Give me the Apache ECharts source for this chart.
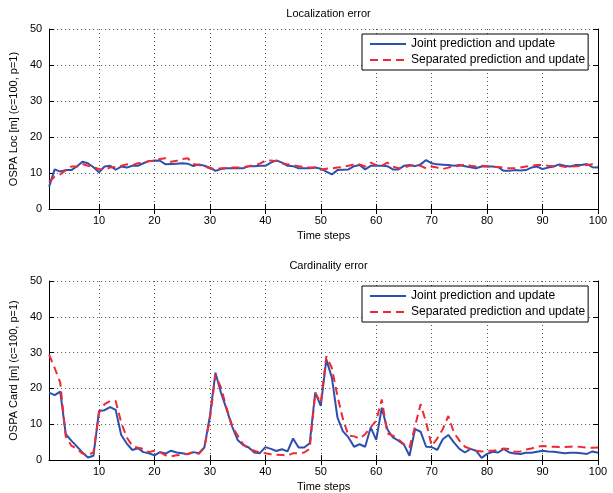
<!DOCTYPE html>
<html>
<head>
<meta charset="utf-8">
<script src="https://cdn.jsdelivr.net/npm/echarts@6/dist/echarts.min.js"></script>
<style>
  html, body { margin: 0; padding: 0; background: #fff; }
  #chart { width: 613px; height: 493px; }
</style>
</head>
<body>
<div id="chart"></div>
<script>
// OSPA error per time step (steps 1..100)
const locJoint = [
  6.2, 11.0, 10.4, 10.8, 10.8, 11.8, 13.1, 12.7, 11.6, 10.2,
  11.8, 12.0, 10.9, 11.8, 11.5, 12.0, 12.0, 12.7, 13.3, 13.5,
  13.4, 12.4, 12.5, 12.6, 12.7, 12.6, 11.9, 12.4, 12.0, 11.5,
  10.6, 11.1, 11.3, 11.3, 11.3, 11.3, 11.9, 11.9, 12.0, 12.0,
  12.9, 13.5, 12.9, 12.0, 11.9, 11.3, 11.3, 11.3, 11.5, 11.2,
  10.4, 9.6, 10.8, 10.9, 11.0, 11.9, 12.2, 11.0, 12.0, 12.0,
  12.0, 11.9, 11.0, 11.0, 12.0, 12.2, 11.9, 12.4, 13.6, 12.7,
  12.4, 12.3, 12.2, 12.0, 12.2, 11.9, 11.6, 11.3, 11.8, 11.8,
  11.8, 11.6, 10.6, 10.6, 10.8, 10.7, 10.8, 11.5, 11.8, 11.1,
  11.5, 11.8, 12.4, 12.0, 11.8, 12.2, 12.2, 12.5, 11.6, 11.5
];
const locSeparated = [
  7.5, 9.0, 9.6, 10.8, 11.8, 11.8, 12.5, 12.0, 11.6, 11.1,
  11.0, 11.5, 11.7, 12.0, 12.4, 12.2, 12.7, 12.9, 13.3, 13.3,
  13.9, 14.1, 13.1, 13.4, 13.9, 14.1, 12.5, 12.2, 11.8, 11.3,
  11.1, 11.3, 11.3, 11.5, 11.5, 11.6, 11.9, 12.2, 12.6, 13.4,
  13.5, 13.3, 12.7, 12.4, 12.2, 11.9, 11.7, 11.5, 11.5, 10.9,
  11.2, 11.3, 11.5, 11.7, 12.0, 12.4, 12.4, 11.8, 12.9, 12.2,
  12.0, 12.9, 11.8, 11.3, 11.5, 12.0, 12.2, 12.0, 11.3, 11.8,
  11.5, 11.1, 11.5, 11.8, 12.0, 12.4, 12.0, 11.8, 12.0, 11.9,
  11.7, 11.7, 11.5, 11.3, 11.3, 11.5, 11.8, 12.0, 12.2, 12.2,
  12.0, 11.9, 12.0, 11.7, 11.8, 11.9, 12.0, 12.2, 12.4, 12.0
];
const cardJoint = [
  18.8, 18.1, 19.1, 7.2, 5.4, 3.8, 2.1, 0.7, 1.2, 13.7,
  13.9, 14.8, 14.0, 7.0, 4.6, 2.8, 3.3, 2.2, 1.9, 1.3,
  2.2, 1.8, 2.6, 2.1, 1.9, 1.6, 2.2, 1.9, 3.5, 12.3,
  24.4, 18.8, 14.2, 9.4, 5.6, 4.2, 3.5, 2.1, 1.9, 3.6,
  3.1, 2.5, 3.0, 2.4, 6.0, 3.5, 3.5, 4.7, 18.8, 15.1,
  28.1, 23.0, 11.9, 8.0, 6.3, 3.7, 4.4, 3.7, 9.1, 5.6,
  14.6, 8.6, 6.3, 5.4, 4.3, 1.2, 8.6, 7.9, 3.7, 3.6,
  2.8, 5.8, 7.0, 4.9, 3.1, 2.1, 3.1, 2.6, 0.6, 1.7,
  2.3, 2.1, 3.1, 2.1, 1.8, 1.7, 2.0, 2.0, 2.3, 2.6,
  2.4, 2.3, 2.1, 1.9, 2.0, 2.0, 1.9, 1.7, 2.4, 2.0
];
const cardSeparated = [
  29.4, 25.7, 21.6, 6.5, 4.0, 3.1, 1.8, 1.3, 2.2, 13.2,
  15.6, 16.5, 16.5, 10.5, 6.3, 4.0, 3.4, 3.1, 2.2, 2.6,
  2.2, 1.3, 1.0, 1.3, 1.5, 1.7, 2.2, 1.7, 3.5, 11.4,
  23.8, 20.2, 14.6, 9.6, 6.8, 4.4, 3.1, 2.6, 2.1, 1.9,
  1.6, 1.5, 1.4, 1.2, 1.9, 1.9, 2.1, 3.1, 18.8, 16.0,
  29.0, 25.7, 17.9, 11.4, 6.8, 6.6, 6.0, 7.2, 9.2, 11.0,
  16.9, 7.4, 6.8, 5.8, 4.4, 3.5, 9.4, 15.6, 10.5, 4.0,
  6.0, 8.6, 12.3, 7.7, 5.4, 3.7, 3.1, 2.6, 2.4, 2.6,
  2.6, 2.8, 3.2, 3.1, 2.3, 2.4, 2.9, 3.2, 3.7, 3.9,
  3.8, 3.7, 3.6, 3.6, 3.7, 3.8, 3.6, 3.5, 3.4, 3.5
];

const xTicks = [10, 20, 30, 40, 50, 60, 70, 80, 90, 100];
const yTicks = [0, 10, 20, 30, 40, 50];

const seriesNames = ['Joint prediction and update', 'Separated prediction and update'];
const panelTitles = ['Localization error', 'Cardinality error'];
const yNames = ['OSPA Loc [m] (c=100, p=1)', 'OSPA Card [m] (c=100, p=1)'];
const xName = 'Time steps';

const FONT = 'Liberation Sans, Arial, sans-serif';
const BLUE = '#2f4fae';
const RED = '#ee2a36';

const toPairs = vals => vals.map((v, i) => [i + 1, v]);

const plotLeft = 49, plotRight = 15, plotH = 180;
const plotTops = [29, 281];

const gridLine = { show: true, lineStyle: { color: '#555', type: [1, 3], width: 1 } };
const axisLine = { show: true, lineStyle: { color: '#000', width: 1 } };
const labelStyle = { color: '#000', fontSize: 11, fontFamily: FONT };

const grids = [], xAxes = [], yAxes = [], series = [], titles = [], legends = [];

plotTops.forEach((top, g) => {
  grids.push({ left: plotLeft, right: plotRight, top: top, height: plotH, show: false });

  // bottom x axis with labels and grid
  xAxes.push({
    type: 'value', gridIndex: g, position: 'bottom', min: 1, max: 100,
    name: xName, nameLocation: 'middle', nameGap: 21,
    nameTextStyle: labelStyle,
    axisLine: axisLine,
    axisTick: { show: true, inside: true, length: 5, customValues: xTicks, lineStyle: { color: '#000' } },
    axisLabel: { show: true, margin: 6, customValues: xTicks, ...labelStyle },
    splitLine: gridLine
  });
  // top x axis, ticks only
  xAxes.push({
    type: 'value', gridIndex: g, position: 'top', min: 1, max: 100,
    axisLine: axisLine,
    axisTick: { show: true, inside: true, length: 5, customValues: xTicks, lineStyle: { color: '#000' } },
    axisLabel: { show: false },
    splitLine: { show: false }
  });
  // left y axis
  yAxes.push({
    type: 'value', gridIndex: g, position: 'left', min: yTicks[0], max: yTicks[yTicks.length - 1], interval: 10,
    name: yNames[g], nameLocation: 'middle', nameGap: 28,
    nameTextStyle: labelStyle,
    axisLine: axisLine,
    axisTick: { show: true, inside: true, length: 5, lineStyle: { color: '#000' } },
    axisLabel: { show: true, margin: 7, ...labelStyle },
    splitLine: gridLine
  });
  // right y axis, ticks only
  yAxes.push({
    type: 'value', gridIndex: g, position: 'right', min: yTicks[0], max: yTicks[yTicks.length - 1], interval: 10,
    axisLine: axisLine,
    axisTick: { show: true, inside: true, length: 5, lineStyle: { color: '#000' } },
    axisLabel: { show: false },
    splitLine: { show: false }
  });

  const data = g === 0 ? [locJoint, locSeparated] : [cardJoint, cardSeparated];
  series.push({
    name: seriesNames[0], type: 'line', xAxisIndex: g * 2, yAxisIndex: g * 2,
    data: toPairs(data[0]), symbol: 'none', animation: false, z: 3,
    lineStyle: { color: BLUE, width: 2 }, itemStyle: { color: BLUE }
  });
  series.push({
    name: seriesNames[1], type: 'line', xAxisIndex: g * 2, yAxisIndex: g * 2,
    data: toPairs(data[1]), symbol: 'none', animation: false, z: 4,
    lineStyle: { color: RED, width: 2, type: [8, 5] }, itemStyle: { color: RED }
  });

  titles.push({
    text: panelTitles[g], left: 323.5, top: top - 26, textAlign: 'center',
    textStyle: { color: '#000', fontSize: 11, fontWeight: 'normal', fontFamily: FONT }
  });

  // line-only legend keys inside a framed box
  legends.push({
    data: seriesNames, orient: 'vertical', left: 362, top: top + 5,
    padding: [4, 3, 4, 7], itemGap: 4, itemWidth: 36, itemHeight: 12,
    itemStyle: { opacity: 0 },
    borderColor: '#000', borderWidth: 1, backgroundColor: '#fff',
    textStyle: { color: '#000', fontSize: 12, fontFamily: FONT },
    selectedMode: false
  });
});

const chart = echarts.init(document.getElementById('chart'), null, { renderer: 'canvas' });
chart.setOption({
  animation: false,
  backgroundColor: '#fff',
  title: titles,
  legend: legends,
  grid: grids,
  xAxis: xAxes,
  yAxis: yAxes,
  series: series
});
</script>
</body>
</html>
